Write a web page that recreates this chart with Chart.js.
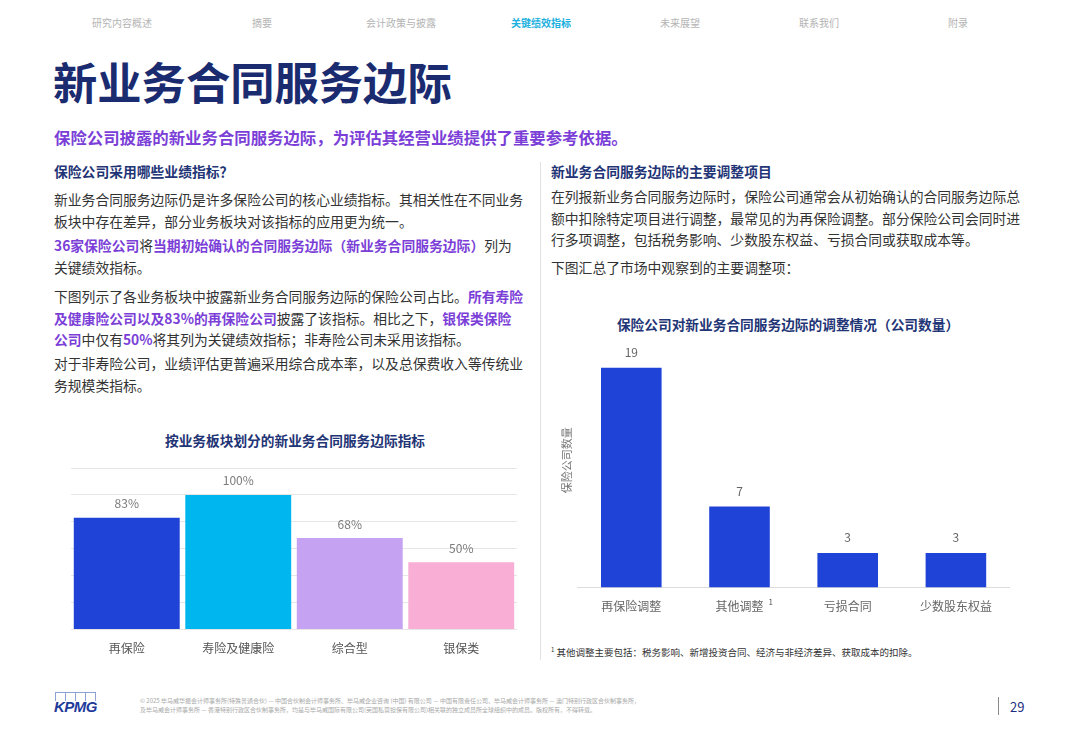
<!DOCTYPE html>
<html>
<head>
<meta charset="utf-8">
<script src="https://cdn.jsdelivr.net/npm/chart.js@4"></script>
<style>
  body { margin: 0; width: 1080px; height: 748px; background: #fff; position: relative; overflow: hidden;
         font-family: 'Noto Sans CJK SC', 'Noto Sans', sans-serif; color: #333; }
  .abs { position: absolute; white-space: nowrap; }
  .nav { top: 15px; font-size: 10px; color: #b4b4b4; transform: translateX(-50%); }
  .nav.on { color: #1bb0de; font-weight: bold; }
  .body { font-size: 13.8px; line-height: 21.5px; color: #333; }
  .hl { color: #7b3fd8; font-weight: bold; }
  .head { font-size: 13.8px; font-weight: bold; color: #1f3576; }
  .ctitle { font-size: 13.7px; font-weight: bold; color: #1f3576; transform: translateX(-50%); }
</style>
</head>
<body>
<div class="abs nav" style="left:122px">研究内容概述</div>
<div class="abs nav" style="left:262px">摘要</div>
<div class="abs nav" style="left:401px">会计政策与披露</div>
<div class="abs nav on" style="left:541px">关键绩效指标</div>
<div class="abs nav" style="left:680px">未来展望</div>
<div class="abs nav" style="left:819px">联系我们</div>
<div class="abs nav" style="left:958px">附录</div>

<div class="abs" style="left:53px;top:52px;font-size:44.3px;font-weight:bold;color:#1b2b70;line-height:58px">新业务合同服务边际</div>
<div class="abs" style="left:54px;top:126px;font-size:16.4px;font-weight:bold;color:#7b3fd8;line-height:22px">保险公司披露的新业务合同服务边际，为评估其经营业绩提供了重要参考依据。</div>

<!-- left column -->
<div class="abs head" style="left:54px;top:161px">保险公司采用哪些业绩指标？</div>
<div class="abs body" style="left:54px;top:189px">新业务合同服务边际仍是许多保险公司的核心业绩指标。其相关性在不同业务<br>板块中存在差异，部分业务板块对该指标的应用更为统一。</div>
<div class="abs body" style="left:54px;top:235px"><span class="hl">36家保险公司</span>将<span class="hl">当期初始确认的合同服务边际（新业务合同服务边际）</span>列为<br>关键绩效指标。</div>
<div class="abs body" style="left:54px;top:286px">下图列示了各业务板块中披露新业务合同服务边际的保险公司占比。<span class="hl">所有寿险<br>及健康险公司以及83%的再保险公司</span>披露了该指标。相比之下，<span class="hl">银保类保险<br>公司</span>中仅有<span class="hl">50%</span>将其列为关键绩效指标；非寿险公司未采用该指标。</div>
<div class="abs body" style="left:54px;top:353px">对于非寿险公司，业绩评估更普遍采用综合成本率，以及总保费收入等传统业<br>务规模类指标。</div>

<div class="abs ctitle" style="left:295px;top:430px">按业务板块划分的新业务合同服务边际指标</div>
<div class="abs" style="left:71px;top:460px;width:446px;height:208px"><canvas id="segmentChart"></canvas></div>

<!-- divider -->
<div class="abs" style="left:540px;top:162px;width:1px;height:498px;background:#e2e2e2"></div>

<!-- right column -->
<div class="abs head" style="left:551px;top:161px">新业务合同服务边际的主要调整项目</div>
<div class="abs body" style="left:551px;top:186px">在列报新业务合同服务边际时，保险公司通常会从初始确认的合同服务边际总<br>额中扣除特定项目进行调整，最常见的为再保险调整。部分保险公司会同时进<br>行多项调整，包括税务影响、少数股东权益、亏损合同或获取成本等。</div>
<div class="abs body" style="left:551px;top:257px">下图汇总了市场中观察到的主要调整项：</div>

<div class="abs ctitle" style="left:788px;top:314px">保险公司对新业务合同服务边际的调整情况（公司数量）</div>
<div class="abs" style="left:556px;top:333px;width:454px;height:293px"><canvas id="adjustChart"></canvas></div>
<div class="abs" style="left:551px;top:645px;font-size:9.5px;color:#333"><sup style="font-size:6px">1</sup> 其他调整主要包括：税务影响、新增投资合同、经济与非经济差异、获取成本的扣除。</div>

<!-- footer -->
<div class="abs" style="left:55px;top:692px;display:flex;gap:0">
  <div style="width:9px;height:8px;border:1px solid #8ea2d8;border-bottom:none"></div>
  <div style="width:9px;height:8px;border:1px solid #8ea2d8;border-bottom:none;border-left:none"></div>
  <div style="width:9px;height:8px;border:1px solid #8ea2d8;border-bottom:none;border-left:none"></div>
  <div style="width:9px;height:8px;border:1px solid #8ea2d8;border-bottom:none;border-left:none"></div>
</div>
<div class="abs" style="left:54px;top:698px;font-size:15px;font-weight:bold;font-style:italic;color:#1e3a9a;font-family:'Liberation Sans',sans-serif;letter-spacing:-0.5px">KPMG</div>
<div class="abs" style="left:140px;top:696px;font-size:6px;line-height:9px;color:#a8a8a8">© 2025 毕马威华振会计师事务所(特殊普通合伙) — 中国合伙制会计师事务所、毕马威企业咨询 (中国) 有限公司 — 中国有限责任公司、毕马威会计师事务所 — 澳门特别行政区合伙制事务所，<br>及毕马威会计师事务所 — 香港特别行政区合伙制事务所，均是与毕马威国际有限公司(英国私营担保有限公司)相关联的独立成员所全球组织中的成员。版权所有，不得转载。</div>
<div class="abs" style="left:998px;top:697px;width:1px;height:18px;background:#8a8a8a"></div>
<div class="abs" style="left:1010px;top:697px;font-size:13px;color:#1e2f7f">29</div>

<script>
// 按业务板块划分的新业务合同服务边际指标
const segmentLabels = ['再保险', '寿险及健康险', '综合型', '银保类'];
const segmentShare = [83, 100, 68, 50];

// 保险公司对新业务合同服务边际的调整情况
const adjustLabels = ['再保险调整', '其他调整', '亏损合同', '少数股东权益'];
const adjustCounts = [19, 7, 3, 3];

const fontFamily = "'Noto Sans CJK SC', 'Noto Sans', sans-serif";

// 柱顶数值
const valueLabels = {
    id: 'valueLabels',
    afterDatasetsDraw(chart, args, opts) {
        const ctx = chart.ctx;
        const meta = chart.getDatasetMeta(0);
        const values = chart.data.datasets[0].data;
        ctx.save();
        ctx.font = opts.size + 'px ' + fontFamily;
        ctx.fillStyle = opts.color;
        ctx.textAlign = 'center';
        ctx.textBaseline = 'bottom';
        meta.data.forEach(function(bar, i) {
            ctx.fillText(values[i] + opts.suffix, bar.x, bar.y - opts.offset);
        });
        ctx.restore();
    }
};

// “其他调整”后面的脚注标记
const footnoteMark = {
    id: 'footnoteMark',
    afterDraw(chart) {
        const ctx = chart.ctx;
        const x = chart.scales.x;
        ctx.save();
        ctx.font = '12px ' + fontFamily;
        const w = ctx.measureText(adjustLabels[1]).width;
        const cx = x.getPixelForValue(1);
        ctx.font = '8px ' + fontFamily;
        ctx.fillStyle = '#555';
        ctx.textAlign = 'left';
        ctx.textBaseline = 'middle';
        ctx.fillText('1', cx + w / 2 + 5, x.top + 14);
        ctx.restore();
    }
};

new Chart(document.getElementById('segmentChart'), {
    type: 'bar',
    data: {
        labels: segmentLabels,
        datasets: [{
            data: segmentShare,
            backgroundColor: ['#1f43d6', '#00b6ef', '#c6a2f3', '#f9aed6'],
            borderWidth: 0,
            barPercentage: 1,
            categoryPercentage: 0.95
        }]
    },
    options: {
        responsive: true,
        maintainAspectRatio: false,
        animation: false,
        layout: { padding: { top: 8 } },
        plugins: {
            legend: { display: false },
            tooltip: { enabled: false },
            valueLabels: { size: 12, color: '#7a7a7a', suffix: '%', offset: 8 }
        },
        scales: {
            x: {
                grid: { display: false, drawTicks: false },
                border: { display: false },
                ticks: { padding: 12, color: '#555', font: { size: 12, family: fontFamily } }
            },
            y: {
                min: 0,
                max: 120,
                ticks: { display: false, stepSize: 20 },
                grid: { color: '#e6e6e6', drawTicks: false },
                border: { display: false }
            }
        }
    },
    plugins: [valueLabels]
});

new Chart(document.getElementById('adjustChart'), {
    type: 'bar',
    data: {
        labels: adjustLabels,
        datasets: [{
            data: adjustCounts,
            backgroundColor: '#1f43d6',
            borderWidth: 0,
            barPercentage: 0.7,
            categoryPercentage: 0.8
        }]
    },
    options: {
        responsive: true,
        maintainAspectRatio: false,
        animation: false,
        layout: { padding: 0 },
        plugins: {
            legend: { display: false },
            tooltip: { enabled: false },
            valueLabels: { size: 12, color: '#666', suffix: '', offset: 9 }
        },
        scales: {
            x: {
                grid: { display: false, drawTicks: false },
                border: { display: true, color: '#dcdcdc' },
                ticks: { padding: 12, color: '#666', font: { size: 12, family: fontFamily } }
            },
            y: {
                min: 0,
                max: 22,
                ticks: { display: false },
                grid: { display: false, drawTicks: false },
                border: { display: false },
                title: {
                    display: true,
                    text: '保险公司数量',
                    color: '#777',
                    font: { size: 11, family: fontFamily }
                }
            }
        }
    },
    plugins: [valueLabels, footnoteMark]
});
</script>
</body>
</html>
